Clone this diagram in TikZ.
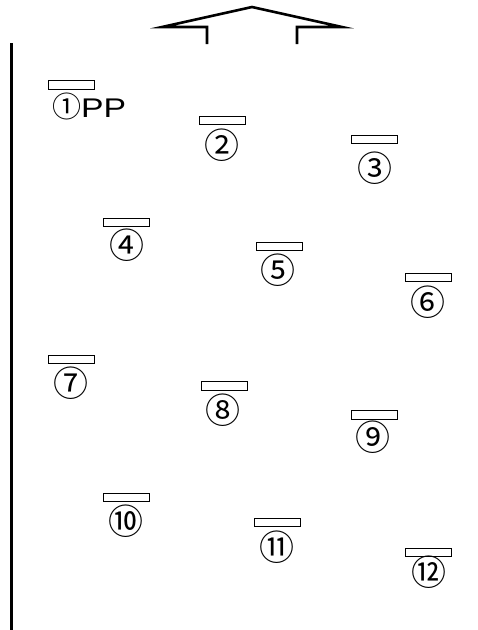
\documentclass[tikz,border=0pt]{standalone}
\usepackage{fontspec}
\setmainfont{Liberation Sans}
\newfontfamily\cjkf{Noto Sans CJK JP}
\begin{document}
\begin{tikzpicture}[x=1pt,y=-1pt,
  slot/.style={draw,line width=0.9pt,minimum width=46pt,minimum height=8.5pt,inner sep=0pt,fill=white},
  num/.style={font=\cjkf\fontsize{35}{35}\selectfont,inner sep=0pt},
  heavy/.style={line width=2.6pt}]
\useasboundingbox (0,0) rectangle (478,630);
% wall line
\coordinate (wt) at (11.5,43);
\coordinate (wb) at (11.5,630);
\draw[line width=3pt] (wt) -- (wb);
% top arrow
\coordinate (a1) at (207,44);
\coordinate (a2) at (207,27);
\coordinate (a3) at (162,27);
\coordinate (a4) at (252,7);
\coordinate (a5) at (342,27);
\coordinate (a6) at (297,27);
\coordinate (a7) at (297,44);
\draw[heavy,line join=miter] (a1) -- (a2) -- (a3) -- (a4) -- (a5) -- (a6) -- (a7);
% slots
\node[slot] (r1) at (71,85) {};
\node[slot] (r2) at (222,120.5) {};
\node[slot] (r3) at (374,139.5) {};
\node[slot] (r4) at (126,222.5) {};
\node[slot] (r5) at (279,246.5) {};
\node[slot] (r6) at (428.5,277.5) {};
\node[slot] (r7) at (71,359.5) {};
\node[slot] (r8) at (224,386) {};
\node[slot] (r9) at (374,415) {};
\node[slot] (r10) at (126,497.5) {};
\node[slot] (r11) at (277.5,522.5) {};
\node[slot] (r12) at (428.5,552.5) {};
% labels
\node[anchor=west,inner sep=0pt] (l1) at (52,106) {{\cjkf\fontsize{29}{29}\selectfont ①}\fontsize{27}{27}\selectfont\scalebox{1.25}[1]{PP}};
\node[num] (l2) at (222,145) {②};
\node[num] (l3) at (375,168) {③};
\node[num] (l4) at (127,245) {④};
\node[num] (l5) at (278,270) {⑤};
\node[num] (l6) at (428,302) {⑥};
\node[num] (l7) at (71,383) {⑦};
\node[num] (l8) at (223,410) {⑧};
\node[num] (l9) at (373,437) {⑨};
\node[num] (l10) at (126,521) {⑩};
\node[num] (l11) at (277,547) {⑪};
\node[num] (l12) at (429,572) {⑫};
\end{tikzpicture}
\end{document}
